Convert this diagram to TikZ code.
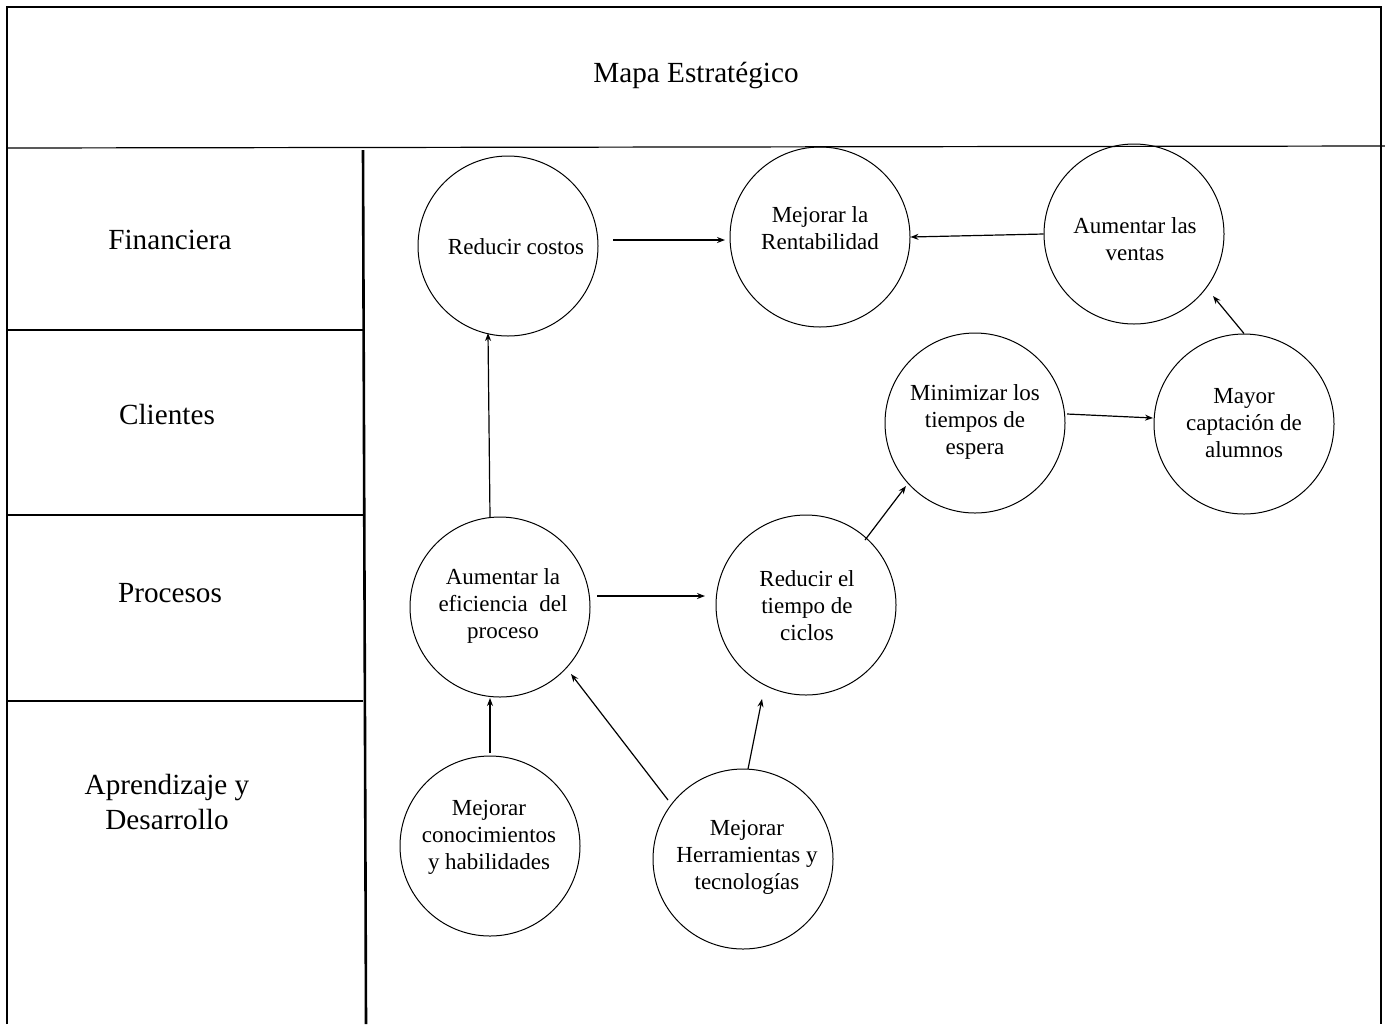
\documentclass[tikz,border=0pt]{standalone}
\usepackage{fontspec}
\setmainfont{Liberation Serif}
\usetikzlibrary{arrows.meta}
\begin{document}
\begin{tikzpicture}[x=0.5pt,y=-0.5pt,
  frame/.style={line width=1.3pt},
  thin/.style={line width=0.6pt},
  obj/.style={circle,draw,line width=0.5pt,minimum size=90pt,inner sep=0pt},
  otext/.style={align=center,inner sep=0pt,yshift=-1pt,font=\fontsize{11.5}{13.5}\selectfont},
  lane/.style={align=center,font=\fontsize{14.6}{17.5}\selectfont},
  conn/.style={line width=0.6pt,-{Stealth[length=4pt,width=3pt]}}]
\useasboundingbox (0,0) rectangle (1385,1024);
% frame
\draw[frame] (7,1024) -- (7,7) -- (1381,7) -- (1381,1024);
\draw[thin] (7,148) -- (1385,146);
\draw[frame] (363,150) -- (366,1024);
\draw[frame] (7,330) -- (363,330);
\draw[frame] (7,515) -- (363,515);
\draw[frame] (7,701) -- (363,701);
% titles
\node[lane] (title) at (696,75) {Mapa Estratégico};
\node[lane] (fin) at (170,240) {Financiera};
\node[lane] (cli) at (167,414) {Clientes};
\node[lane] (pro) at (170,593) {Procesos};
\node[lane] (apr) at (167,802) {Aprendizaje y\\Desarrollo};
% objectives (circles)
\node[obj] (rc) at (508,246) {};
\node[obj] (mr) at (820,237) {};
\node[obj] (av) at (1134,234) {};
\node[obj] (mt) at (975,423) {};
\node[obj] (mc) at (1244,424) {};
\node[obj] (ae) at (500,607) {};
\node[obj] (rt) at (806,605) {};
\node[obj] (mk) at (490,846) {};
\node[obj] (mh) at (743,859) {};
% objective texts
\node[otext] (rct) at (516,245) {Reducir costos};
\node[otext] (mrt) at (820,226) {Mejorar la\\Rentabilidad};
\node[otext] (avt) at (1135,237) {Aumentar las\\ventas};
\node[otext] (mtt) at (975,420) {Minimizar los\\tiempos de\\espera};
\node[otext] (mct) at (1244,421) {Mayor\\captación de\\alumnos};
\node[otext] (aet) at (503,604) {Aumentar la\\eficiencia~~del\\proceso};
\node[otext] (rtt) at (807,604) {Reducir el\\tiempo de\\ciclos};
\node[otext] (mkt) at (489,835) {Mejorar\\conocimientos\\y habilidades};
\node[otext] (mht) at (747,855) {Mejorar\\Herramientas y\\tecnologías};
% connectors
\coordinate (a1s) at (613,240); \coordinate (a1e) at (725,240);
\draw[conn] (a1s) -- (a1e);
\draw[conn] (av.west) -- (mr.east);
\coordinate (a3e) at (1213,296);
\draw[conn] (mc.north) -- (a3e);
\coordinate (a4s) at (1067,414); \coordinate (a4e) at (1153,418);
\draw[conn] (a4s) -- (a4e);
\coordinate (a5s) at (865,540); \coordinate (a5e) at (906,486);
\draw[conn] (a5s) -- (a5e);
\coordinate (a6s) at (597,596); \coordinate (a6e) at (705,596);
\draw[conn] (a6s) -- (a6e);
\coordinate (a7s) at (490,517); \coordinate (a7e) at (488,333);
\draw[conn] (a7s) -- (a7e);
\coordinate (a8s) at (490,753); \coordinate (a8e) at (490,698);
\draw[conn] (a8s) -- (a8e);
\coordinate (a9s) at (668,800); \coordinate (a9e) at (571,674);
\draw[conn] (a9s) -- (a9e);
\coordinate (a10s) at (748,769); \coordinate (a10e) at (762,699);
\draw[conn] (a10s) -- (a10e);
\end{tikzpicture}
\end{document}
